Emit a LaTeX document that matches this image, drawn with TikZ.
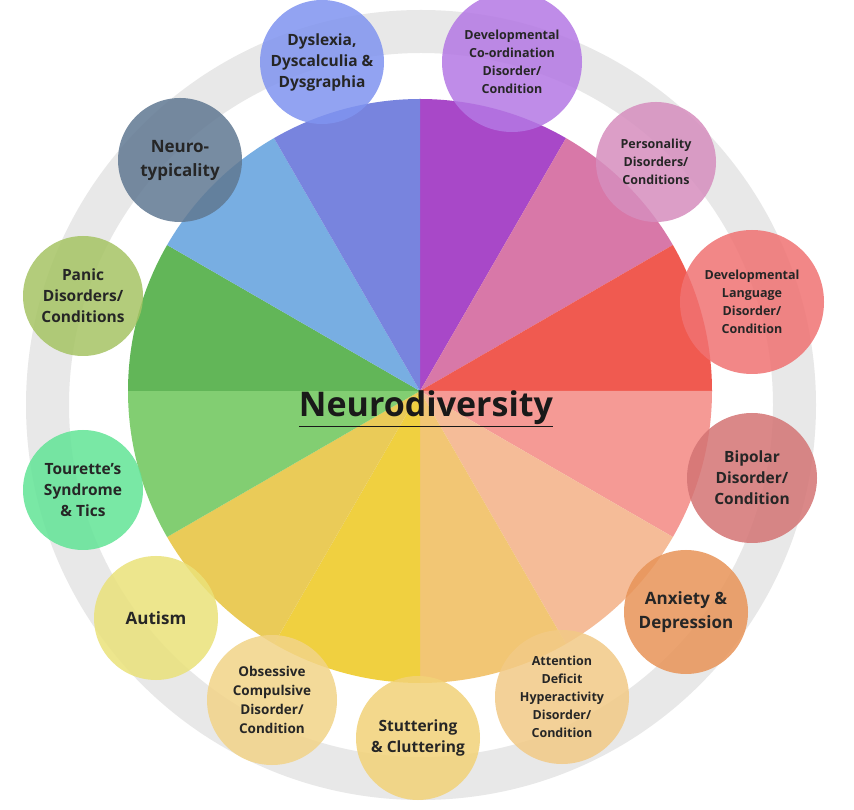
\documentclass[tikz,border=0pt]{standalone}
\usepackage{fontspec}
\setmainfont{Open Sans}
\begin{document}
\begin{tikzpicture}[x=1pt,y=1pt,
  bub/.style={circle,fill=#1,fill opacity=0.85,text opacity=1,text=black!85,align=center,font=\bfseries\fontsize{15.5}{21}\selectfont,inner sep=0pt},
  sbub/.style={bub=#1,font=\bfseries\fontsize{12.5}{18}\selectfont}]
\useasboundingbox (0,0) rectangle (854,809);
\fill[white] (0,0) rectangle (854,809);
\fill[gray!18,even odd rule] (421,404) circle (395) (421,404) circle (352);
\coordinate (c) at (420,418);
\foreach \a/\col in {90/A848C8,60/D878A8,30/F05A50,0/F59A95,-30/F5BC98,-60/F2C674,-90/F0D040,-120/EACB58,-150/82CE72,180/62B658,150/78AEE2,120/7884DE}{
  \definecolor{wc}{HTML}{\col}
  \fill[wc] (c) -- ++(\a:292) arc[start angle=\a,end angle=\a-30,radius=292] -- cycle;
}
\node[font=\bfseries\fontsize{34}{36}\selectfont,text=black!90] (t) at (426,400) {\underline{Neurodiversity}};
\definecolor{b1}{HTML}{8094F0}\definecolor{b2}{HTML}{B478E4}\definecolor{b3}{HTML}{D68EBE}
\definecolor{b4}{HTML}{F07272}\definecolor{b5}{HTML}{D47474}\definecolor{b6}{HTML}{E89458}
\definecolor{b7}{HTML}{F2CA86}\definecolor{b8}{HTML}{F2D278}\definecolor{b9}{HTML}{F2D488}
\definecolor{b10}{HTML}{EAE27A}\definecolor{b11}{HTML}{62E496}\definecolor{b12}{HTML}{A6C464}
\definecolor{b13}{HTML}{607892}
\node[bub=b1,minimum size=124] (n1) at (322,747) {Dyslexia,\\Dyscalculia \&\\Dysgraphia};
\node[sbub=b2,minimum size=140] (n2) at (512,747) {Developmental\\Co-ordination\\Disorder/\\Condition};
\node[sbub=b3,minimum size=120] (n3) at (656,647) {Personality\\Disorders/\\Conditions};
\node[sbub=b4,minimum size=144] (n4) at (752,507) {Developmental\\Language\\Disorder/\\Condition};
\node[bub=b5,minimum size=130] (n5) at (752,331) {Bipolar\\Disorder/\\Condition};
\node[bub=b6,minimum size=124,font=\bfseries\fontsize{17}{24}\selectfont] (n6) at (686,197) {Anxiety \&\\Depression};
\node[sbub=b7,minimum size=134] (n7) at (562,112) {Attention\\Deficit\\Hyperactivity\\Disorder/\\Condition};
\node[bub=b8,minimum size=124] (n8) at (418,71) {Stuttering\\\& Cluttering};
\node[sbub=b9,minimum size=130,font=\bfseries\fontsize{13.5}{19}\selectfont] (n9) at (272,109) {Obsessive\\Compulsive\\Disorder/\\Condition};
\node[bub=b10,minimum size=124,font=\bfseries\fontsize{17}{19}\selectfont] (n10) at (156,191) {Autism};
\node[bub=b11,minimum size=120] (n11) at (83,319) {Tourette's\\Syndrome\\\& Tics};
\node[bub=b12,minimum size=120] (n12) at (83,513) {Panic\\Disorders/\\Conditions};
\node[bub=b13,minimum size=124,font=\bfseries\fontsize{17}{24}\selectfont] (n13) at (180,649) {Neuro-\\typicality};
\end{tikzpicture}
\end{document}
